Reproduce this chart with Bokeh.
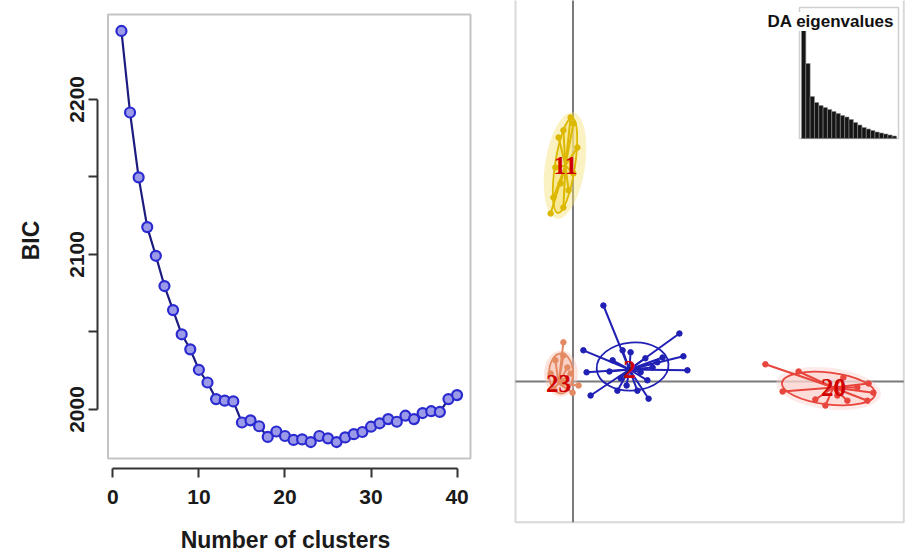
import numpy as np
from bokeh.plotting import figure
from bokeh.layouts import row
from bokeh.models import (ColumnDataSource, FixedTicker, BoxAnnotation, Range1d, Label, Plot)
from bokeh.embed import file_html
from bokeh.resources import INLINE
from bokeh.core.properties import value

# ---------------- data: BIC versus number of clusters ----------------
n_clusters = list(range(1, 41))
bic = [2244.1, 2191.5, 2149.7, 2117.6, 2099.1, 2079.6, 2064.1, 2048.5, 2038.8, 2025.6,
       2017.4, 2006.7, 2005.7, 2005.2, 1991.6, 1993.0, 1989.2, 1982.3, 1985.8, 1982.9,
       1980.4, 1980.7, 1979.0, 1982.9, 1981.4, 1979.0, 1982.0, 1984.1, 1985.5, 1988.9,
       1991.1, 1993.8, 1992.1, 1996.0, 1993.8, 1997.7, 1998.9, 1998.4, 2006.7, 2009.3]
x_ticks = [0, 10, 20, 30, 40]
y_ticks = [2000, 2050, 2100, 2150, 2200]
y_tick_labels = {2000: "2000", 2050: "", 2100: "2100", 2150: "", 2200: "2200"}

# ---------------- data: DAPC scatter (LD1, LD2) ----------------
cluster_names = ["11", "23", "2", "20"]
cluster_colors = ["#DDB800", "#E48A62", "#2020B4", "#E8453C"]
cluster_fill = ["#F6E27C", "#F8C4B6", None, "#FBD3CF"]
centroid_x = [-0.19, -0.36, 1.41, 6.51]
centroid_y = [5.40, -0.05, 0.30, -0.15]
ell_x = [-0.20, -0.30, 1.49, 6.39]
ell_y = [5.40, 0.20, 0.375, -0.175]
ell_w = [0.50, 0.60, 1.80, 2.35]
ell_h = [2.40, 1.00, 1.20, 0.80]
ell_angle = [-0.15, 0.0, 0.08, -0.12]

c11_x = [0.01, -0.24, 0.11, -0.36, -0.06, -0.31, -0.49, -0.24, -0.56, -0.11, 0.01, -0.44]
c11_y = [6.45, 6.28, 5.85, 6.10, 6.60, 4.95, 4.60, 4.35, 4.20, 4.78, 5.20, 5.35]
c23_x = [-0.24, -0.24, -0.44, -0.14, 0.14, -0.01, -0.24, -0.49, -0.56, -0.06]
c23_y = [0.98, 0.65, 0.53, 0.35, -0.10, -0.28, -0.03, -0.18, 0.20, 0.20]
c2_x = [0.76, 2.66, 2.76, 2.86, 1.89, 0.26, 0.44, 0.34, 0.99, 0.91, 1.11,
        1.24, 1.44, 1.61, 1.86, 1.99, 2.11, 2.24, 1.19, 1.69, 1.34, 1.81]
c2_y = [1.90, 1.20, 0.63, 0.28, -0.43, 0.78, -0.35, 0.23, 0.53, 0.25, -0.23,
        0.78, 0.73, -0.23, 0.03, 0.35, 0.48, 0.60, 0.08, 0.23, -0.10, 0.58]
c20_x = [4.81, 5.64, 5.24, 6.06, 6.31, 6.76, 7.39, 7.51, 7.36, 6.86, 7.11, 6.61]
c20_y = [0.43, 0.25, -0.25, -0.45, -0.60, 0.10, -0.05, -0.28, -0.48, -0.48, -0.15, -0.35]
cluster_points = [(c11_x, c11_y), (c23_x, c23_y), (c2_x, c2_y), (c20_x, c20_y)]

# DA eigenvalues (inset bar plot)
da_eigenvalues = [125, 75, 42, 36, 33, 31, 29, 27, 25, 23, 21.5, 19, 16, 13.5,
                  11, 9.5, 8, 6.5, 5.5, 4.5, 3.5, 2.5]

AXIS_FONT = "Liberation Sans"

# ======================= left panel =======================
W_L, H = 505, 556
F_L, F_R, F_T, F_B = 97, 473, 12, 468          # frame in page px
B_L, B_R, B_T, B_B = 107.5, 470, 14, 458       # R-style box in page px

xmin, xmax = min(n_clusters), max(n_clusters)
ymin, ymax = min(bic), max(bic)
xb0, xb1 = xmin - 0.04 * (xmax - xmin), xmax + 0.04 * (xmax - xmin)
yb0, yb1 = ymin - 0.04 * (ymax - ymin), ymax + 0.04 * (ymax - ymin)
sx = (B_R - B_L) / (xb1 - xb0)
sy = (B_B - B_T) / (yb1 - yb0)

left = figure(width=W_L, height=H, output_backend="svg", toolbar_location=None,
              x_range=Range1d(xb0 - (B_L - F_L) / sx, xb1 + (F_R - B_R) / sx),
              y_range=Range1d(yb0 - (F_B - B_B) / sy, yb1 + (B_T - F_T) / sy),
              min_border_left=F_L, min_border_right=W_L - F_R,
              min_border_top=F_T, min_border_bottom=H - F_B)
left.outline_line_color = None
left.grid.visible = False
left.background_fill_color = "white"
left.border_fill_color = "white"

left.add_layout(BoxAnnotation(left=xb0, right=xb1, bottom=yb0, top=yb1,
                              fill_alpha=0, line_color="#3a3a3a", line_width=2))

src = ColumnDataSource(dict(k=n_clusters, bic=bic))
left.line("k", "bic", source=src, line_color="#1c1c80", line_width=2.2)
left.scatter("k", "bic", source=src, marker="circle", size=10,
             line_color="#2a2ad0", line_width=2.2, fill_color="#9a9ae8")

for ax in (left.xaxis[0], left.yaxis[0]):
    ax.axis_line_width = 2
    ax.axis_line_color = "#333333"
    ax.major_tick_line_width = 2
    ax.major_tick_line_color = "#333333"
    ax.major_tick_in = 0
    ax.major_tick_out = 9
    ax.minor_tick_line_color = None
    ax.major_label_text_font = AXIS_FONT
    ax.major_label_text_font_size = "21px"
    ax.major_label_text_font_style = "bold"
    ax.major_label_text_color = "#1a1a1a"
    ax.axis_label_text_font = AXIS_FONT
    ax.axis_label_text_font_size = "23px"
    ax.axis_label_text_font_style = "bold"
    ax.axis_label_text_color = "#1a1a1a"

left.xaxis.ticker = FixedTicker(ticks=x_ticks)
left.xaxis.bounds = (min(x_ticks), max(x_ticks))
left.xaxis.axis_label = "Number of clusters"
left.xaxis.major_label_standoff = 12
left.xaxis.axis_label_standoff = 20

left.yaxis.ticker = FixedTicker(ticks=y_ticks)
left.yaxis.bounds = (min(y_ticks), max(y_ticks))
left.yaxis.major_label_overrides = y_tick_labels
left.yaxis.major_label_orientation = "vertical"
left.yaxis.axis_label = "BIC"
left.yaxis.major_label_standoff = 4
left.yaxis.axis_label_standoff = 24

# ======================= right panel =======================
W_R = 401
PAGE_X0 = W_L                 # right figure starts here on the page
OX, OY, S = 572.5, 381.0, 40.0  # page px of origin, px per LD unit

def px2x(px):
    return (px - OX) / S

def px2y(py):
    return (OY - py) / S

right = figure(width=W_R, height=H, output_backend="svg", toolbar_location=None,
               x_range=Range1d(px2x(PAGE_X0), px2x(PAGE_X0 + W_R)),
               y_range=Range1d(px2y(H), px2y(0)),
               min_border_left=0, min_border_right=0, min_border_top=0, min_border_bottom=0)
right.outline_line_color = None
right.grid.visible = False
right.axis.visible = False
right.background_fill_color = "white"
right.border_fill_color = "white"

if "frame_align" in Plot.properties():
    left.frame_align = False
    right.frame_align = False

bx0, bx1, by0 = px2x(515), px2x(903.3), px2y(521.7)
right.add_layout(BoxAnnotation(left=bx0, right=bx1, bottom=by0, top=px2y(-30),
                               fill_alpha=0, line_color="#808080", line_width=2))
right.line([0, 0], [by0, px2y(-30)], line_color="#7a7a7a", line_width=2)
right.line([bx0, bx1], [0, 0], line_color="#7a7a7a", line_width=2)

# clusters
glow_w = [2.0, 1.4, 1.1, 1.12]
glow_h = [1.12, 1.15, 1.1, 1.3]
for i, (xs, ys) in enumerate(cluster_points):
    col = cluster_colors[i]
    fill = cluster_fill[i]
    # soft glow
    right.ellipse(x=ell_x[i], y=ell_y[i], width=ell_w[i] * glow_w[i], height=ell_h[i] * glow_h[i],
                  angle=ell_angle[i], fill_color=fill if fill else None,
                  fill_alpha=0.45 if fill else 0, line_color=None)
    right.ellipse(x=ell_x[i], y=ell_y[i], width=ell_w[i], height=ell_h[i],
                  angle=ell_angle[i], fill_color=fill if fill else None,
                  fill_alpha=0.6 if fill else 0, line_color=col, line_width=1.8)
    n = len(xs)
    right.segment(x0=[centroid_x[i]] * n, y0=[centroid_y[i]] * n, x1=xs, y1=ys,
                  line_color=col, line_width=2)
    right.scatter(xs, ys, marker="circle", size=5.5, fill_color=col, line_color=col)

right.text(x=centroid_x, y=centroid_y, text=cluster_names,
           text_font=value("Liberation Serif"), text_font_style="bold",
           text_font_size="25px", text_color="#D00000",
           text_align="center", text_baseline="middle")

# inset: DA eigenvalues
n_eig = len(da_eigenvalues)
BAR_L, BAR_R, BAR_BASE = 801.0, 896.0, 138.0
slot = (BAR_R - BAR_L) / n_eig
right.extra_x_ranges = {"eig_x": Range1d(0.5 + (PAGE_X0 - BAR_L) / slot,
                                         0.5 + (PAGE_X0 + W_R - BAR_L) / slot)}
right.extra_y_ranges = {"eig_y": Range1d(BAR_BASE - H, BAR_BASE)}
right.vbar(x=list(range(1, n_eig + 1)), top=da_eigenvalues, bottom=0, width=1.0,
           fill_color="#151515", line_color="#8a8a8a", line_width=0.6,
           x_range_name="eig_x", y_range_name="eig_y")
right.add_layout(BoxAnnotation(left=px2x(799), right=px2x(898), top=px2y(7), bottom=px2y(138),
                               fill_alpha=0, line_color="#606060", line_width=1.5))
right.add_layout(Label(x=px2x(767), y=px2y(21), text="DA eigenvalues",
                       text_font=AXIS_FONT, text_font_style="bold", text_font_size="17px",
                       text_color="#111111", text_baseline="middle",
                       background_fill_color="white", background_fill_alpha=1.0))

layout = row(left, right)
open("out.html", "w").write(file_html(layout, INLINE))
